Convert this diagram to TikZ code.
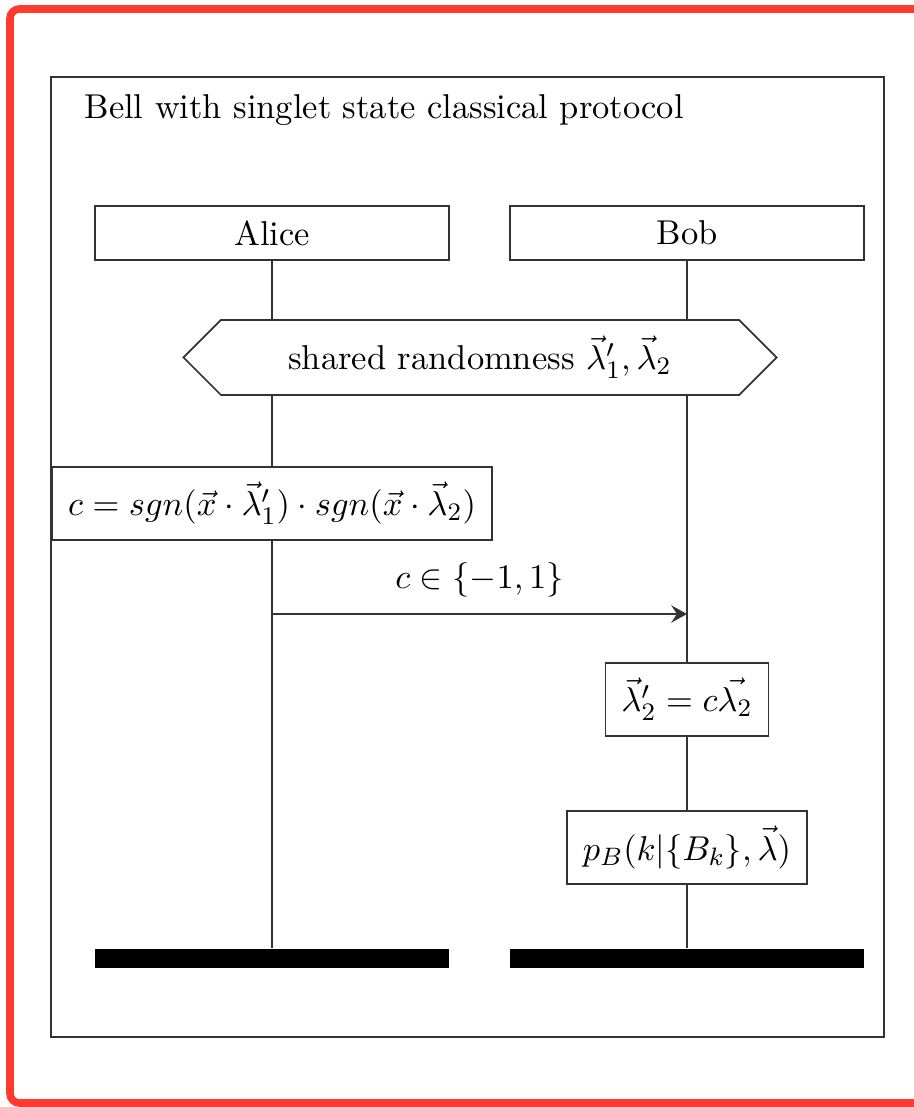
\documentclass[tikz,border=0pt,11pt]{standalone}
\usepackage{amsmath, amssymb}
\usepackage{tikz}
\usetikzlibrary{positioning,arrows.meta,shapes.symbols}
\definecolor{framered}{HTML}{FF3B30}
\definecolor{linegray}{HTML}{333333}
\tikzset{
  msgarrow/.style={-{Stealth[length=5pt, width=5.5pt, inset=1.8pt]}, linegray, line width=0.55pt},
  lifeline/.style={linegray, line width=0.55pt},
  partybox/.style={draw=linegray, line width=0.55pt, minimum width=112.4pt, minimum height=17.1pt, inner sep=0pt},
  actbox/.style={draw=linegray, line width=0.55pt, minimum height=23.2pt, inner sep=0pt},
  sharedbox/.style={draw=linegray, line width=0.55pt, signal, signal to=west and east, signal pointer angle=90, minimum width=188.3pt, minimum height=23.8pt, inner sep=0pt},
  endbar/.style={fill=black, minimum width=112.4pt, minimum height=6pt, inner sep=0pt},
  msglabel/.style={text=black, inner sep=1pt}
}
\begin{document}
\begin{tikzpicture}[x=0.3175pt, y=-0.3175pt]
      \useasboundingbox (0,0) rectangle (913,1107);
      % frame
      \draw[framered, line width=2.4pt, rounded corners=3pt] (1000,9) -- (10,9) -- (10,1103) -- (1000,1103);
      \draw[linegray, line width=0.55pt] (51,77) rectangle (884,1037);
      \node[anchor=base west, inner sep=0pt] (title) at (84,119) {Bell with singlet state classical protocol};
      % parties
      \node[partybox] (alice) at (272,233) {Alice};
      \node[partybox] (bob) at (687,233) {Bob};
      \node[sharedbox] (shared) at (480,357.5) {shared randomness $\vec{\lambda}'_1, \vec{\lambda}_2$};
      \node[actbox, minimum width=139.7pt] (act) at (272,503.5) {$c = sgn(\vec{x}\cdot\vec{\lambda}'_1)\cdot sgn(\vec{x}\cdot\vec{\lambda}_2)$};
      \node[actbox, minimum width=51.7pt] (upd) at (687,699.5) {$\vec{\lambda}'_2 = c\vec{\lambda_2}$};
      \node[actbox, minimum width=76.2pt] (pb) at (687,847.5) {$p_B(k|\{B_k\},\vec{\lambda})$};
      \node[endbar] (endA) at (272,958.5) {};
      \node[endbar] (endB) at (687,958.5) {};
      \coordinate (msgA) at (272,614);
      \coordinate (msgB) at (687,614);
      % lifelines
      \draw[lifeline] (alice) -- (alice |- shared.north);
      \draw[lifeline] (bob) -- (bob |- shared.north);
      \draw[lifeline] (alice |- shared.south) -- (act);
      \draw[lifeline] (act) -- (endA);
      \draw[lifeline] (bob |- shared.south) -- (upd);
      \draw[lifeline] (upd) -- (pb);
      \draw[lifeline] (pb) -- (endB);
      % message
      \draw[msgarrow] (msgA) -- node[msglabel, above=4pt] {$c \in \{-1,1\}$} (msgB);
    \end{tikzpicture}
\end{document}
